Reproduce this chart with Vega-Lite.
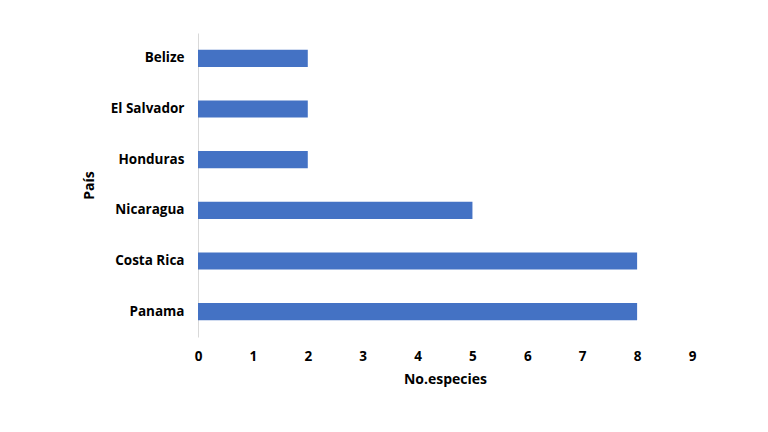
{
  "$schema": "https://vega.github.io/schema/vega-lite/v6.json",
  "width": 494,
  "height": 304,
  "autosize": {"type": "none"},
  "padding": {"left": 198, "top": 33, "right": 76, "bottom": 95},
  "background": "white",
  "config": {"view": {"stroke": null}, "font": "Open Sans"},
  "data": {"values": [
    {"pais": "Belize", "especies": 2},
    {"pais": "El Salvador", "especies": 2},
    {"pais": "Honduras", "especies": 2},
    {"pais": "Nicaragua", "especies": 5},
    {"pais": "Costa Rica", "especies": 8},
    {"pais": "Panama", "especies": 8}
  ]},
  "mark": {"type": "bar", "color": "#4472C4"},
  "encoding": {
    "y": {
      "field": "pais", "type": "nominal",
      "sort": ["Belize", "El Salvador", "Honduras", "Nicaragua", "Costa Rica", "Panama"],
      "scale": {"paddingInner": 0.66, "paddingOuter": 0.33},
      "axis": {
        "title": "País", "titleFontSize": 14, "titleFontWeight": "bold", "titleColor": "#000",
        "titlePadding": 14,
        "labelFontSize": 13.5, "labelFontWeight": "bold", "labelColor": "#000", "labelPadding": 14,
        "ticks": false, "domainColor": "#d9d9d9", "grid": false
      }
    },
    "x": {
      "field": "especies", "type": "quantitative",
      "scale": {"domain": [0, 9]},
      "axis": {
        "title": "No.especies", "titleFontSize": 14, "titleFontWeight": "bold", "titleColor": "#000",
        "titlePadding": 10,
        "values": [0,1,2,3,4,5,6,7,8,9],
        "labelOverlap": false, "labelFlush": false,
        "labelFontSize": 13.5, "labelFontWeight": "bold", "labelColor": "#000", "labelPadding": 12,
        "ticks": false, "domain": false, "grid": false
      }
    }
  }
}
